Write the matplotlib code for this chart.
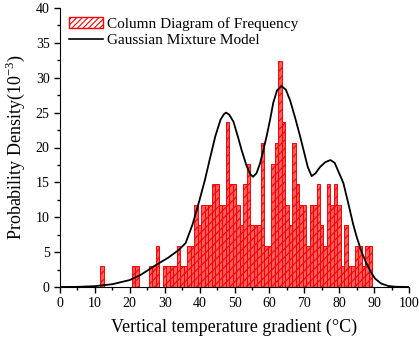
import matplotlib
matplotlib.use("Agg")
import matplotlib.pyplot as plt
import matplotlib.patches as mpatches
import matplotlib.lines as mlines
import numpy as np

plt.rcParams['font.family'] = ['Liberation Serif', 'DejaVu Serif']
plt.rcParams['mathtext.fontset'] = 'custom'
plt.rcParams['mathtext.rm'] = 'Liberation Serif'
plt.rcParams['hatch.linewidth'] = 0.8

# histogram bins (centre, degC) and counts
bin_centres = np.arange(12, 90)
counts = [1, 0, 0, 0, 0, 0, 0, 0, 0, 1,   # 12-21
          1, 0, 0, 0, 1, 1, 2, 0, 1, 1,   # 22-31
          1, 1, 2, 1, 1, 2, 2, 4, 3, 4,   # 32-41
          4, 4, 5, 5, 4, 4, 8, 5, 5, 4,   # 42-51
          3, 5, 6, 3, 3, 3, 7, 2, 2, 6,   # 52-61
          7, 11, 8, 4, 3, 7, 5, 4, 4, 2,  # 62-71
          4, 4, 5, 3, 2, 5, 4, 5, 4, 1,   # 72-81
          3, 1, 1, 2, 2, 1, 2, 2]         # 82-89
count_unit = 2.95  # density of one count, 1e-3

# gaussian mixture curve
gmm_x = [0, 5, 10, 15, 20, 23, 27, 31, 34, 36, 38, 40, 41.5, 43, 44.5, 46, 47,
         47.6, 48.5, 49.7, 51, 52, 53.5, 54.5, 55.3, 56.3, 57.3, 58.2, 59.2,
         60.2, 61.1, 62.2, 63.5, 64.7, 65.9, 67.3, 68.8, 70.0, 71.0, 72.1,
         73.2, 74.5, 76.0, 77.5, 78.7, 80.0, 81.2, 82.6, 84.0, 85.0, 86.3,
         87.6, 89.0, 90.3, 92.0, 94.0, 96.0, 100]
gmm_y = [0, 0.02, 0.12, 0.4, 1.0, 1.7, 3.0, 4.2, 5.3, 6.3, 9.0, 12.5, 15.3,
         18.5, 21.6, 24.0, 24.8, 25.0, 24.7, 23.7, 21.5, 19.7, 17.3, 16.2,
         15.8, 16.3, 17.7, 19.5, 21.6, 24.0, 26.4, 28.2, 28.8, 28.3, 26.8,
         24.4, 21.6, 19.2, 17.2, 15.9, 16.3, 17.2, 17.9, 18.2, 17.8, 16.3,
         14.9, 12.0, 9.0, 7.2, 5.2, 3.6, 2.2, 1.2, 0.5, 0.15, 0.04, 0]

density = np.array(counts) * count_unit

fig = plt.figure(figsize=(4.19, 3.45), dpi=100)
ax = fig.add_axes([60/419, 58/345, 349/419, 279/345])

ax.bar(bin_centres, density, width=1, align='center', facecolor='#ff5e5e',
       edgecolor='red', hatch='////', linewidth=0.7)
ax.plot(gmm_x, gmm_y, color='black', lw=1.3)

ax.set_xlim(0, 100)
ax.set_ylim(0, 40)
ax.set_xticks(np.arange(0, 101, 10))
ax.set_xticks(np.arange(0, 101, 5), minor=True)
ax.set_yticks(np.arange(0, 41, 5))
ax.set_yticks(np.arange(0, 41, 2.5), minor=True)
ax.tick_params(which='major', direction='out', length=4, width=1, labelsize=10)
ax.tick_params(which='minor', direction='out', length=2.5, width=1)
ax.spines['top'].set_visible(False)
ax.spines['right'].set_visible(False)

ax.set_xlabel('Vertical temperature gradient (\u00b0C)', fontsize=13, labelpad=6)
ax.set_ylabel('Probability Density(10$^{-3}$)', fontsize=13, labelpad=6)

bar_handle = mpatches.Patch(facecolor='white', edgecolor='red', hatch='//////',
                            label='Column Diagram of Frequency')
line_handle = mlines.Line2D([], [], color='black', lw=1.2,
                            label='Gaussian Mixture Model')
ax.legend(handles=[bar_handle, line_handle], loc='upper left', frameon=False,
          fontsize=11, handlelength=2.2, handletextpad=0.3, borderaxespad=0.2,
          labelspacing=0.15, bbox_to_anchor=(0.0, 1.0))

fig.savefig('out.png', dpi=100)
